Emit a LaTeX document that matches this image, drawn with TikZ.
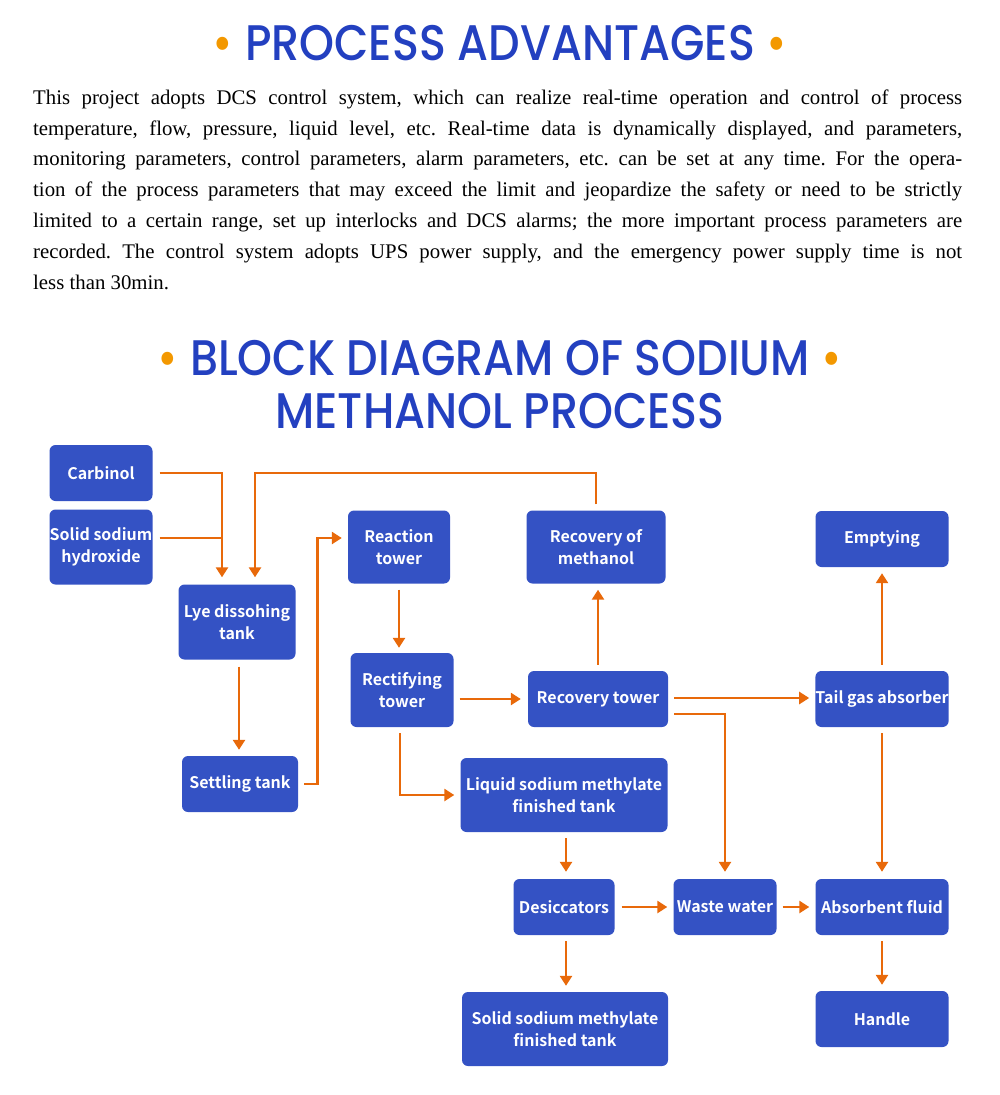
\documentclass[tikz,border=0pt]{standalone}
\usepackage{fontspec}
\setmainfont{Liberation Serif}
\newfontfamily\titlefont{Poppins Medium}[FakeStretch=0.89]
\newfontfamily\boxfont{Noto Sans CJK SC Bold}
\usetikzlibrary{arrows.meta}
\definecolor{boxblue}{RGB}{52, 82, 196}
\definecolor{titleblue}{RGB}{35, 64, 192}
\definecolor{dotorange}{RGB}{243, 152, 0}
\definecolor{pipeorange}{RGB}{232, 105, 10}
\tikzset{
  unit/.style={fill=boxblue, text=white, rounded corners=6pt, align=center, inner sep=0pt,
    font=\boxfont\fontsize{16}{22}\selectfont},
  pipe/.style={draw=pipeorange, line width=2.6pt, -{Triangle[width=12pt,length=10pt]}},
  pipeline/.style={draw=pipeorange, line width=2.6pt},
  heading/.style={anchor=base, inner sep=0pt, text=titleblue, font=\titlefont\fontsize{50}{50}\selectfont},
  bodyline/.style={anchor=base west, inner sep=0pt, font=\fontsize{20.8}{30}\selectfont}
}
\newcommand{\hdot}{\textcolor{dotorange}{•}}
\frenchspacing

\begin{document}
\begin{tikzpicture}[x=1pt, y=-1pt]
      \useasboundingbox (0,0) rectangle (1000,1095);

      % Headings
      \node[heading] (adv) at (500,60) {\hdot\ PROCESS ADVANTAGES\ \hdot};
      \node[heading] (blk) at (500,375) {\hdot\ BLOCK DIAGRAM OF SODIUM\ \hdot};
      \node[heading] (blkb) at (500,428) {METHANOL PROCESS};

      % Text
      \node[bodyline] (t1) at (33,104) {\makebox[929pt][s]{This project adopts DCS control system, which can realize real-time operation and control of process}};
      \node[bodyline] (t2) at (33,135) {\makebox[929pt][s]{temperature, flow, pressure, liquid level, etc. Real-time data is dynamically displayed, and parameters,}};
      \node[bodyline] (t3) at (33,165) {\makebox[929pt][s]{monitoring parameters, control parameters, alarm parameters, etc. can be set at any time. For the opera-}};
      \node[bodyline] (t4) at (33,196) {\makebox[929pt][s]{tion of the process parameters that may exceed the limit and jeopardize the safety or need to be strictly}};
      \node[bodyline] (t5) at (33,227) {\makebox[929pt][s]{limited to a certain range, set up interlocks and DCS alarms; the more important process parameters are}};
      \node[bodyline] (t6) at (33,258) {\makebox[929pt][s]{recorded. The control system adopts UPS power supply, and the emergency power supply time is not}};
      \node[bodyline] (t7) at (33,289) {less than 30min.};

      % Units
      \node[unit, minimum width=103pt, minimum height=56pt] (carb) at (101,473) {Carbinol};
      \node[unit, minimum width=103pt, minimum height=75pt] (soda) at (101,547) {Solid sodium\\hydroxide};
      \node[unit, minimum width=117pt, minimum height=75pt] (lye) at (237,622) {Lye dissohing\\tank};
      \node[unit, minimum width=116pt, minimum height=56pt] (settle) at (240,784) {Settling tank};
      \node[unit, minimum width=102pt, minimum height=73pt] (react) at (399,547) {Reaction\\tower};
      \node[unit, minimum width=103pt, minimum height=74pt] (rectify) at (402,690) {Rectifying\\tower};
      \node[unit, minimum width=139pt, minimum height=73pt] (recmeth) at (596,547) {Recovery of\\methanol};
      \node[unit, minimum width=140pt, minimum height=56pt] (rectower) at (598,699) {Recovery tower};
      \node[unit, minimum width=133pt, minimum height=56pt] (empty) at (882,539) {Emptying};
      \node[unit, minimum width=133pt, minimum height=56pt] (tailgas) at (882,699) {Tail gas absorber};
      \node[unit, minimum width=207pt, minimum height=74pt] (liquid) at (564,795) {Liquid sodium methylate\\finished tank};
      \node[unit, minimum width=101pt, minimum height=56pt] (dry) at (564,907) {Desiccators};
      \node[unit, minimum width=103pt, minimum height=56pt] (waste) at (725,907) {Waste water};
      \node[unit, minimum width=133pt, minimum height=56pt] (absorb) at (882,907) {Absorbent fluid};
      \node[unit, minimum width=133pt, minimum height=56pt] (handle) at (882,1019) {Handle};
      \node[unit, minimum width=206pt, minimum height=74pt] (solid) at (565,1029) {Solid sodium methylate\\finished tank};

      % Inlets of the lye tank
      \coordinate (lyein) at ([xshift=-15pt]lye.north);
      \coordinate (lyeret) at ([xshift=18pt]lye.north);

      % Flows
      \draw[pipe] ([xshift=7pt]carb.east) -| ([yshift=7pt]lyein);
      \draw[pipeline] ([xshift=7pt,yshift=9pt]soda.east) -- ([yshift=9pt]soda.east -| lyein);
      \draw[pipe] ([yshift=6pt]recmeth.north) |- (carb.east -| lyeret) -- ([yshift=7pt]lyeret);
      \draw[pipe] ([xshift=2pt,yshift=-7pt]lye.south) -- ([xshift=2pt,yshift=6pt]lye.south |- settle.north);
      \draw[pipe] ([xshift=6pt]settle.east) -- ++(13,0) |- ([xshift=-6pt,yshift=9pt]react.west);
      \draw[pipe] ([yshift=-6pt]react.south) -- ([yshift=5pt]react.south |- rectify.north);
      \draw[pipe] ([xshift=6pt]rectify.east |- rectower.west) -- ([xshift=-7pt]rectower.west);
      \draw[pipe] ([xshift=-2pt,yshift=-6pt]rectify.south) |- ([xshift=-6pt]liquid.west);
      \draw[pipe] ([yshift=6pt]rectower.north) -- ([yshift=-6pt]rectower.north |- recmeth.south);
      \draw[pipe] ([xshift=6pt,yshift=1pt]rectower.east) -- ([xshift=-6pt,yshift=1pt]tailgas.west);
      \draw[pipe] ([xshift=6pt,yshift=-15pt]rectower.east) -| ([yshift=7pt]waste.north);
      \draw[pipe] ([yshift=6pt]tailgas.north) -- ([yshift=-6pt]empty.south);
      \draw[pipe] ([yshift=-6pt]tailgas.south) -- ([yshift=7pt]absorb.north);
      \draw[pipe] ([xshift=2pt,yshift=-6pt]liquid.south) -- ([xshift=2pt,yshift=7pt]liquid.south |- dry.north);
      \draw[pipe] ([xshift=7pt]dry.east) -- ([xshift=-6pt]waste.west);
      \draw[pipe] ([xshift=6pt]waste.east) -- ([xshift=-6pt]absorb.west);
      \draw[pipe] ([yshift=-6pt]absorb.south) -- ([yshift=6pt]handle.north);
      \draw[pipe] ([xshift=2pt,yshift=-6pt]dry.south) -- ([xshift=2pt,yshift=6pt]dry.south |- solid.north);
\end{tikzpicture}
\end{document}
